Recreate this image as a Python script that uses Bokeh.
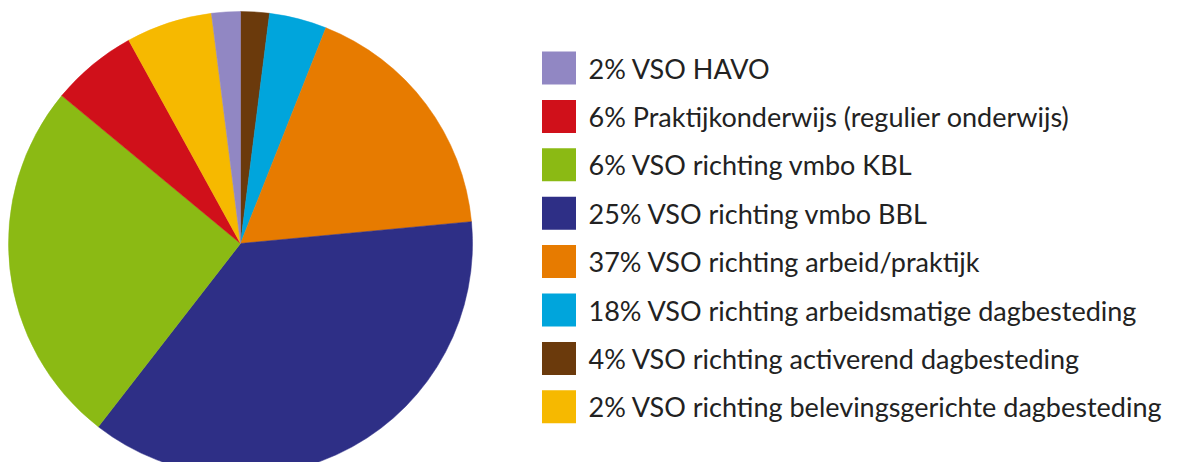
import math
from bokeh.plotting import figure
from bokeh.models import Range1d, ColumnDataSource
from bokeh.core.properties import value
from bokeh.embed import file_html
from bokeh.resources import INLINE

# Pie slices, clockwise from 12 o'clock (sizes as drawn in the picture)
slice_values = [2, 4, 17.5, 37, 25.5, 6, 6, 2]
slice_colors = ["#6b3a0c", "#00a5dc", "#e77b00", "#2e2f86",
                "#8bba14", "#d0101a", "#f6b900", "#9187c3"]

# Legend entries (top to bottom)
legend_labels = [
    "2% VSO HAVO",
    "6% Praktijkonderwijs (regulier onderwijs)",
    "6% VSO richting vmbo KBL",
    "25% VSO richting vmbo BBL",
    "37% VSO richting arbeid/praktijk",
    "18% VSO richting arbeidsmatige dagbesteding",
    "4% VSO richting activerend dagbesteding",
    "2% VSO richting belevingsgerichte dagbesteding",
]
legend_colors = ["#9187c3", "#d0101a", "#8bba14", "#2e2f86",
                 "#e77b00", "#00a5dc", "#6b3a0c", "#f6b900"]

W, H = 1169, 462
p = figure(width=W, height=H, output_backend="svg", toolbar_location=None,
           x_range=Range1d(0, W), y_range=Range1d(470 - H, 470),
           min_border=0)
p.axis.visible = False
p.grid.visible = False
p.outline_line_color = None
p.background_fill_color = "white"

# pie
total = sum(slice_values)
cum = 0.0
starts, ends = [], []
for v in slice_values:
    a0 = math.pi / 2 - 2 * math.pi * (cum + v) / total
    a1 = math.pi / 2 - 2 * math.pi * cum / total
    starts.append(a0)
    ends.append(a1)
    cum += v
cx, cy, r = 240, 470 - 243, 232
src = ColumnDataSource(dict(start=starts, end=ends, color=slice_colors))
p.wedge(x=cx, y=cy, radius=r, start_angle="start", end_angle="end",
        fill_color="color", line_color="color", line_width=0.5, source=src)

# legend
n = len(legend_labels)
ys = [470 - (67.5 + 48.4 * i) for i in range(n)]
lsrc = ColumnDataSource(dict(y=ys, label=legend_labels, color=legend_colors))
p.rect(x=558.5, y="y", width=34, height=33, fill_color="color",
       line_color=None, source=lsrc)
p.text(x=588, y="y", text="label", source=lsrc, text_baseline="middle",
       text_align="left", text_font=value("Lato"), text_font_size="27px",
       text_color="#222222")

open("out.html", "w").write(file_html(p, INLINE))
